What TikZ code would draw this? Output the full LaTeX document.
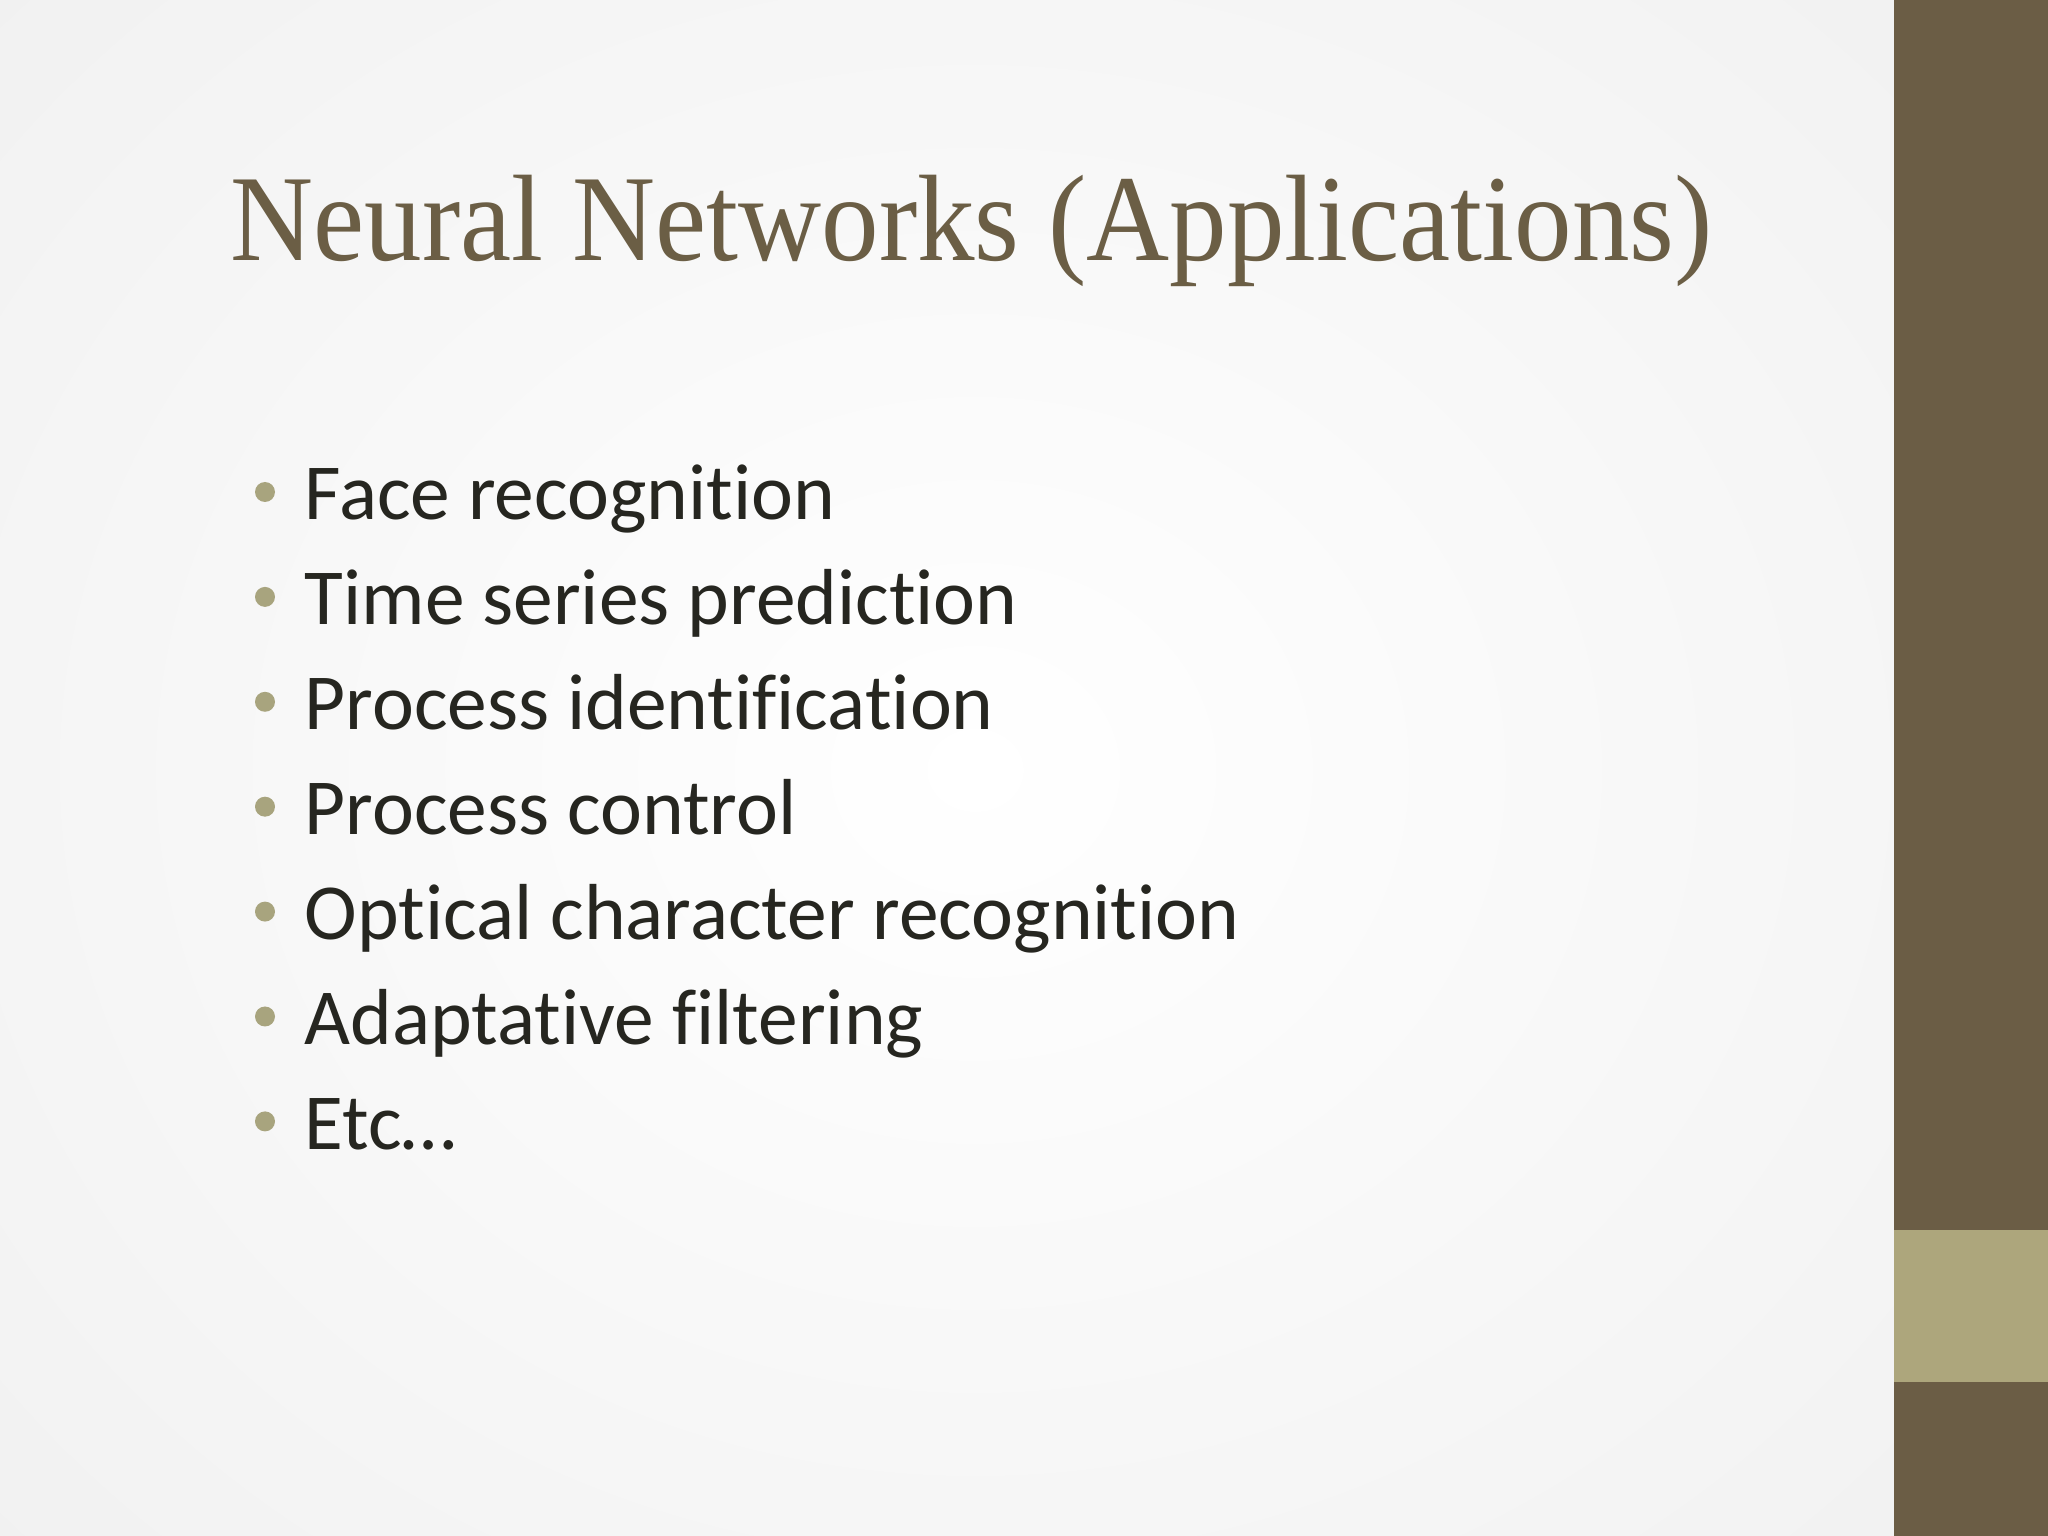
\documentclass[tikz,border=0pt]{standalone}
\usepackage{fontspec}
\setmainfont{Liberation Serif}[FakeStretch=0.935]
\newfontfamily\bodyfont{Carlito}[Ligatures={NoCommon,NoRare}]
\definecolor{barbrown}{HTML}{6B5D45}
\definecolor{barlight}{HTML}{ADA67C}
\definecolor{titlecol}{HTML}{6B5E45}
\definecolor{bulletcol}{HTML}{A8A47E}
\definecolor{textcol}{HTML}{262620}
\begin{document}
\begin{tikzpicture}[x=1cm,y=-1cm,
  item/.style={anchor=base west,font=\bodyfont\fontsize{22.6}{26}\selectfont,text=textcol,inner sep=0pt},
  dot/.style={circle,fill=bulletcol,inner sep=0pt,minimum size=0.2cm}]
\useasboundingbox (0,0) rectangle (20.48,15.36);
\shade[inner color=white,middle color=white,outer color=white!88!gray,shading=radial] (-5,-5) rectangle (24.5,20.4);
\fill[barbrown] (18.94,0) rectangle (20.48,15.36);
\fill[barlight] (18.94,12.30) rectangle (20.48,13.82);
\node[anchor=base west,inner sep=0pt,text=titlecol,font=\fontsize{35}{40}\selectfont] (title) at (2.30,2.61) {Neural Networks (Applications)};
\foreach \t [count=\i] in {Face recognition,Time series prediction,Process identification,Process control,Optical character recognition,Adaptative filtering,Etc…}{
  \node[item] (i\i) at (3.04,{5.20+(\i-1)*1.049}) {\t};
  \node[dot] (b\i) at (2.65,{5.20+(\i-1)*1.049-0.28}) {};
}
\end{tikzpicture}
\end{document}
